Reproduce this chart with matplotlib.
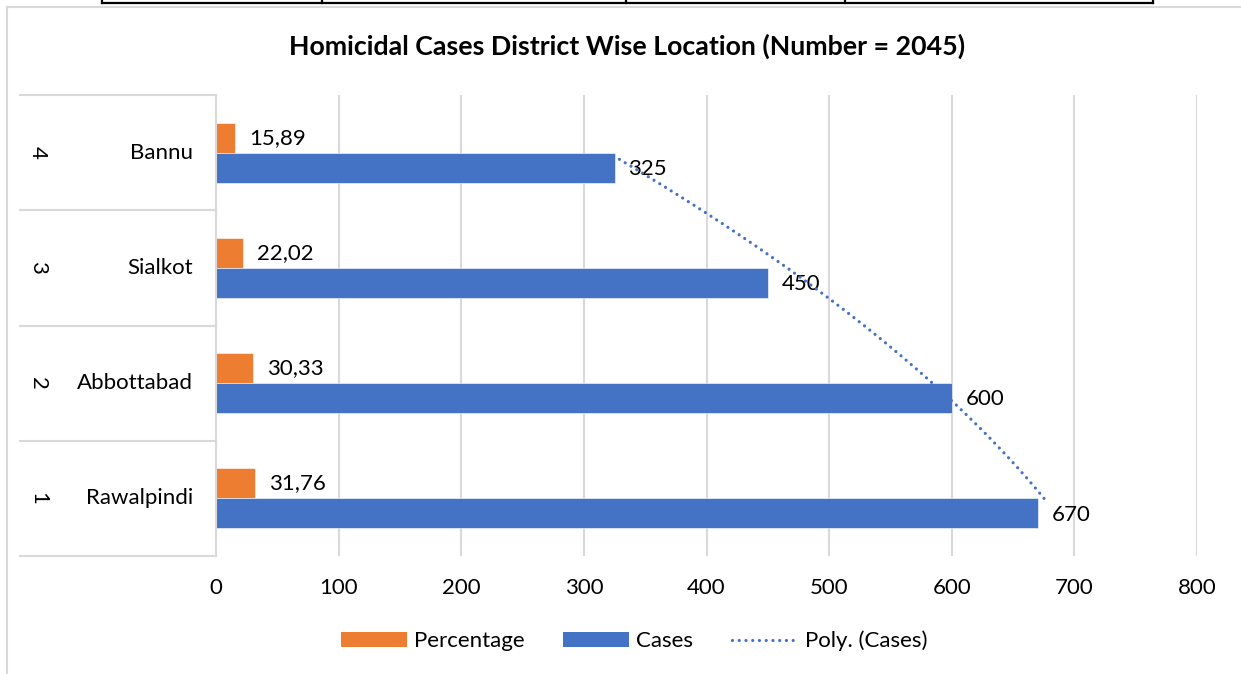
import numpy as np
import matplotlib.pyplot as plt
from matplotlib.patches import Patch
from matplotlib.lines import Line2D
import matplotlib.transforms as mtransforms

# === Data ===
ranks = ["1", "2", "3", "4"]
districts = ["Rawalpindi", "Abbottabad", "Sialkot", "Bannu"]
cases = [670, 600, 450, 325]
percentage = [31.76, 30.33, 22.02, 15.89]
x_ticks = [0, 100, 200, 300, 400, 500, 600, 700, 800]

title = "Homicidal Cases District Wise Location (Number = 2045)"

ORANGE = "#ED7D31"
BLUE = "#4472C4"
GRID = "#D9D9D9"
FS = 16

plt.rcParams['font.family'] = ['Lato', 'DejaVu Sans']

fig = plt.figure(figsize=(12.41, 6.74), dpi=100)
ax = fig.add_axes([216 / 1241, 1 - 556 / 674, 981 / 1241, 461 / 674])

pos = np.arange(1, len(districts) + 1)
bar_h = 0.26

ax.barh(pos + bar_h / 2, percentage, height=bar_h, color=ORANGE, edgecolor="white",
        linewidth=0.4, zorder=2)
ax.barh(pos - bar_h / 2, cases, height=bar_h, color=BLUE, edgecolor="white",
        linewidth=0.4, zorder=2)

# data labels
for p, v in zip(pos, percentage):
    ax.annotate(f"{v:.2f}".replace(".", ","), (v, p + bar_h / 2), xytext=(10, 0),
                textcoords="offset points", va="center", ha="left", fontsize=FS, zorder=3)
for p, v in zip(pos, cases):
    ax.annotate(str(v), (v, p - bar_h / 2), xytext=(10, -1),
                textcoords="offset points", va="center", ha="left", fontsize=FS, zorder=3)

# polynomial (order 2) trendline on Cases, like Excel
dots = (0, (0.01, 2.1))
coef = np.polyfit(pos, cases, 2)
t = np.linspace(pos[0], pos[-1], 200)
ax.plot(np.polyval(coef, t), t, color=BLUE, lw=2.3, linestyle=dots,
        dash_capstyle="round", zorder=4)

ax.set_xlim(0, 800)
ax.set_ylim(0.5, len(districts) + 0.5)
ax.set_xticks(x_ticks)
ax.set_xticklabels([str(v) for v in x_ticks], fontsize=FS)
ax.tick_params(axis="x", length=0, pad=16)
ax.set_yticks([])
ax.xaxis.grid(True, color=GRID, lw=1.5, zorder=0)
ax.set_axisbelow(True)
for s in ["top", "right", "bottom"]:
    ax.spines[s].set_visible(False)
ax.spines["left"].set_color(GRID)
ax.spines["left"].set_linewidth(1.5)

# multi-level category axis
trans = mtransforms.blended_transform_factory(ax.transAxes, ax.transData)
x0 = (20 - 216) / 981
for b in np.arange(0.5, len(districts) + 1, 1.0):
    ax.plot([x0, 0], [b, b], color=GRID, lw=1.5, transform=trans, clip_on=False)
for p, name, r in zip(pos, districts, ranks):
    ax.text(-0.0235, p, name, transform=trans, ha="right", va="center", fontsize=FS)
    ax.text((38 - 216) / 981, p, r, transform=trans, ha="center", va="center",
            rotation=-90, fontsize=FS)

fig.text(0.505, 1 - 46 / 674, title, ha="center", va="center", fontsize=19.3, fontweight="bold")

# legend
handles = [Patch(facecolor=ORANGE), Patch(facecolor=BLUE),
           Line2D([0], [0], color=BLUE, lw=2.3, linestyle=dots, dash_capstyle="round")]
labels = ["Percentage", "Cases", "Poly. (Cases)"]
fig.legend(handles, labels, loc="center", bbox_to_anchor=(0.511, 1 - 641 / 674), ncol=3,
           frameon=False, fontsize=FS, handlelength=2.95, handleheight=0.63,
           handletextpad=0.32, columnspacing=1.75)

# chart frame and the table border above it
fig.add_artist(Line2D([7 / 1241, 7 / 1241], [0, 1 - 7 / 674], color=GRID, lw=1.5))
fig.add_artist(Line2D([7 / 1241, 1], [1 - 7 / 674, 1 - 7 / 674], color=GRID, lw=1.5))
fig.add_artist(Line2D([102 / 1241, 1153 / 1241], [1 - 3 / 674, 1 - 3 / 674], color="black", lw=1.6))
for xv in [102, 322, 626, 845, 1153]:
    fig.add_artist(Line2D([xv / 1241, xv / 1241], [1 - 3 / 674, 1], color="black", lw=1.6))

fig.savefig("out.png", dpi=100, facecolor="white")
